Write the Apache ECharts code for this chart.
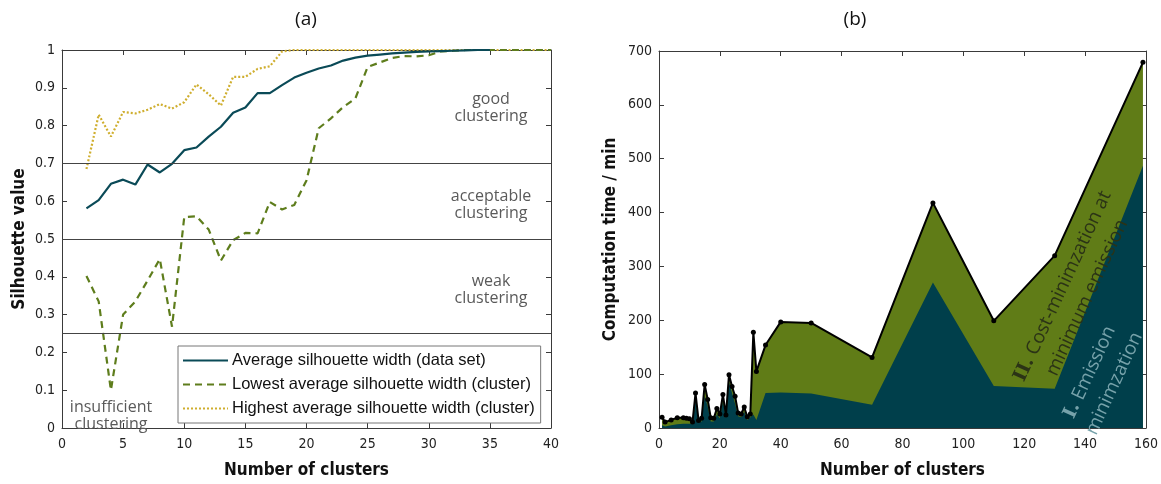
<!DOCTYPE html>
<html><head><meta charset="utf-8">
<script src="https://cdn.jsdelivr.net/npm/echarts@6/dist/echarts.min.js"></script>
<style>html,body{margin:0;padding:0;background:#fff}#c{width:1161px;height:484px}</style>
</head><body><div id="c"></div>
<script>
// ---- Left chart (a) data ----
const clustersA = [2,3,4,5,6,7,8,9,10,11,12,13,14,15,16,17,18,19,20,21,22,23,24,25,26,27,28,29,30,31,32,33,34,35,36,37,38,39,40];
const avgWidth = [0.581,0.603,0.646,0.657,0.644,0.697,0.676,0.699,0.735,0.742,0.771,0.797,0.834,0.848,0.886,0.886,0.907,0.927,0.940,0.951,0.959,0.972,0.980,0.985,0.988,0.991,0.993,0.995,0.996,0.997,0.998,0.999,1.0,1.0];
const lowestWidth = [0.402,0.335,0.10,0.30,0.335,0.39,0.447,0.268,0.558,0.56,0.525,0.443,0.497,0.516,0.515,0.598,0.578,0.59,0.655,0.793,0.819,0.849,0.872,0.955,0.967,0.979,0.984,0.983,0.986,0.996,0.998,1,1,1,1,1,1,1,1];
const highestWidth = [0.685,0.829,0.771,0.836,0.832,0.842,0.857,0.845,0.862,0.909,0.883,0.853,0.929,0.929,0.950,0.957,0.996,1,1,1,1,1,1,1,1,1,1,1,1,1,1,1,1,1,1,1,1,1,1];
const thresholds = [0.7, 0.5, 0.25];
const seriesNamesA = ['Average silhouette width (data set)','Lowest average silhouette width (cluster)','Highest average silhouette width (cluster)'];

// ---- Right chart (b) data ----
const clustersB = [1,2,4,6,8,9,10,11,12,13,14,15,16,17,18,19,20,21,22,23,24,25,26,27,28,29,30,31,32,35,40,50,70,90,110,130,159];
const totalTime = [20,11,15,19,19,18,17,11,65,14,18,81,53,19,18,36,26,62,24,99,77,59,28,26,39,21,26,178,105,154,197,195,131,418,199,320,679];
const emissionTime = [5,3,5,7,8,8,8,7,50,10,12,60,40,12,12,25,18,50,18,85,65,45,22,20,30,15,20,25,15,65,66,64,43,270,78,73,487];

// axis tick settings
const axisA = {xMin:0, xMax:40, xStep:5, yMin:0, yMax:1, yStep:0.1};
const axisB = {xMin:0, xMax:160, xStep:20, yMin:0, yMax:700, yStep:100};

const pairs = (xs, ys) => ys.map((v,i)=>[xs[i], v]);

const tickFont = '"Liberation Sans Narrow","DejaVu Sans Condensed","Liberation Sans",sans-serif';
const axisCol = '#3a3a3a';
function mkX(grid, a, pos, show, name){
  return {type:'value', gridIndex:grid, position:pos, min:a.xMin, max:a.xMax, interval:a.xStep,
    axisLine:{show:true, onZero:false, lineStyle:{color:axisCol, width:1}},
    axisTick:{show:true, inside:true, length:5, lineStyle:{color:axisCol}},
    axisLabel:{show:show, color:'#222', fontSize:14, fontFamily:tickFont, margin:9},
    splitLine:{show:false},
    name: name||'', nameLocation:'middle', nameGap:34,
    nameTextStyle:{fontSize:17, fontWeight:'bold', color:'#111', fontFamily:tickFont}};
}
function mkY(grid, a, pos, show, name, gap){
  return {type:'value', gridIndex:grid, position:pos, min:a.yMin, max:a.yMax, interval:a.yStep,
    axisLine:{show:true, onZero:false, lineStyle:{color:axisCol, width:1}},
    axisTick:{show:true, inside:true, length:5, lineStyle:{color:axisCol}},
    axisLabel:{show:show, color:'#222', fontSize:14, fontFamily:tickFont, margin:7,
      formatter:v=>String(Math.round(v*100)/100)},
    splitLine:{show:false},
    name: name||'', nameLocation:'middle', nameGap:gap||36, nameRotate:90,
    nameTextStyle:{fontSize:17, fontWeight:'bold', color:'#111', fontFamily:tickFont}};
}

const teal = '#0a4a57', olive = '#5e7d1c', gold = '#cfae2e';
const annFont = '"Open Sans","Noto Sans",sans-serif';
function ann(x,y,text){
  return {type:'text', x:x, y:y, style:{text:text, fill:'#5a5a5a', font:'16px '+annFont, align:'center', verticalAlign:'middle', lineHeight:17}, z:50};
}

const chart = echarts.init(document.getElementById('c'), null, {renderer:'canvas'});
chart.setOption({
  animation:false,
  backgroundColor:'#fff',
  grid:[
    {left:62, right:610, top:50, bottom:48},
    {left:659, right:13, top:51, bottom:49}
  ],
  xAxis:[
    mkX(0, axisA, 'bottom', true, 'Number of clusters'),
    mkX(0, axisA, 'top', false),
    mkX(1, axisB, 'bottom', true, 'Number of clusters'),
    mkX(1, axisB, 'top', false)
  ],
  yAxis:[
    mkY(0, axisA, 'left', true, 'Silhouette value', 34),
    mkY(0, axisA, 'right', false),
    mkY(1, axisB, 'left', true, 'Computation time / min', 40),
    mkY(1, axisB, 'right', false)
  ],
  legend:{
    data:seriesNamesA, orient:'vertical', left:178, top:346,
    backgroundColor:'#fff', borderColor:'#777', borderWidth:1, borderRadius:0,
    padding:[6,6,6,4], itemGap:7, itemWidth:45, itemHeight:18,
    itemStyle:{opacity:0},
    textStyle:{fontFamily:'"Liberation Sans",Arial,sans-serif', fontSize:16.5, color:'#111', padding:[0,0,0,-1]},
    selectedMode:false
  },
  series:[
    {name:seriesNamesA[0], type:'line', xAxisIndex:0, yAxisIndex:0, data:pairs(clustersA, avgWidth),
      symbol:'none', lineStyle:{color:teal, width:2.2}, itemStyle:{color:teal}, z:4,
      markLine:{silent:true, symbol:'none', label:{show:false},
        lineStyle:{color:'#444', width:1, type:'solid'},
        data:thresholds.map(t=>({yAxis:t}))}},
    {name:seriesNamesA[1], type:'line', xAxisIndex:0, yAxisIndex:0, data:pairs(clustersA, lowestWidth),
      symbol:'none', lineStyle:{color:olive, width:2.2, type:[7,5]}, itemStyle:{color:olive}, z:3},
    {name:seriesNamesA[2], type:'line', xAxisIndex:0, yAxisIndex:0, data:pairs(clustersA, highestWidth),
      symbol:'none', lineStyle:{color:gold, width:2.2, type:[2,2]}, itemStyle:{color:gold}, z:2},

    {name:'total-area', type:'line', xAxisIndex:2, yAxisIndex:2, data:pairs(clustersB, totalTime),
      symbol:'none', lineStyle:{width:0}, areaStyle:{color:'#607c17', opacity:1}, z:2},
    {name:'emission-area', type:'line', xAxisIndex:2, yAxisIndex:2, data:pairs(clustersB, emissionTime),
      symbol:'none', lineStyle:{width:0}, areaStyle:{color:'#003f4b', opacity:1}, z:3},
    {name:'total-line', type:'line', xAxisIndex:2, yAxisIndex:2, data:pairs(clustersB, totalTime),
      symbol:'circle', symbolSize:5, showSymbol:true, lineStyle:{color:'#000', width:2},
      itemStyle:{color:'#000'}, z:5}
  ],
  graphic:[
    {type:'text', x:306, y:20, style:{text:'(a)', fill:'#111', font:'19px '+annFont, align:'center', verticalAlign:'middle'}},
    {type:'text', x:855, y:20, style:{text:'(b)', fill:'#111', font:'19px '+annFont, align:'center', verticalAlign:'middle'}},
    ann(491,108,'good\nclustering'),
    ann(491,205,'acceptable\nclustering'),
    ann(491,290,'weak\nclustering'),
    ann(111,416,'insufficient\nclustering'),
    {type:'text', x:1075, y:292, rotation:65.2*Math.PI/180, z:50,
      style:{text:'{b|II.} Cost-minimzation at\nminimum emission', fill:'#2b3316',
        font:'19px '+annFont, align:'center', verticalAlign:'middle', lineHeight:27,
        rich:{b:{font:'bold 19px "DejaVu Serif","Liberation Serif",serif', fill:'#2b3316'}}}},
    {type:'text', x:1102, y:378, rotation:65.2*Math.PI/180, z:50,
      style:{text:'{b|I.} Emission\nminimzation', fill:'#76a2aa',
        font:'19px '+annFont, align:'center', verticalAlign:'middle', lineHeight:27,
        rich:{b:{font:'bold 19px "DejaVu Serif","Liberation Serif",serif', fill:'#76a2aa'}}}}
  ]
});
</script></body></html>
